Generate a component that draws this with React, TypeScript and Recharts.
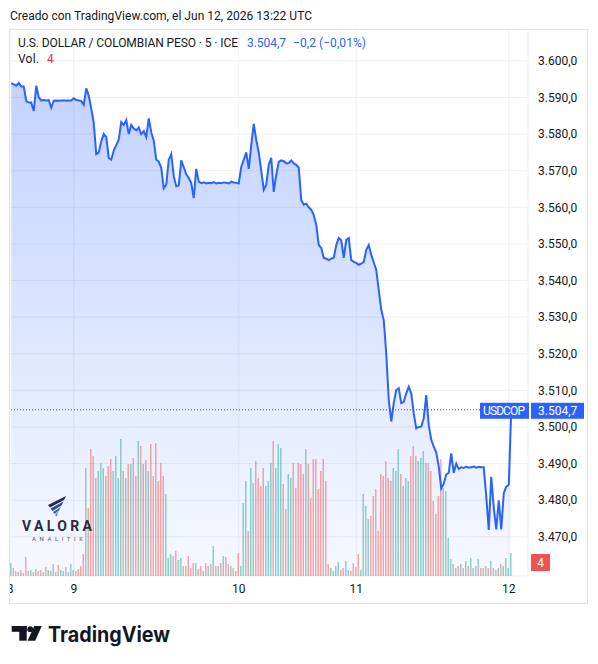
import React from 'react';
import {
  ComposedChart,
  Area,
  Line,
  Bar,
  Cell,
  XAxis,
  YAxis,
  CartesianGrid,
  ReferenceLine,
} from 'recharts';

// ---- DATA ----
const symbol = 'USDCOP';
const titleText = 'U.S. DOLLAR / COLOMBIAN PESO · 5 · ICE';
const createdText = 'Creado con TradingView.com, el Jun 12, 2026 13:22 UTC';
const changeText = '−0,2 (−0,01%)';
const lastVolumeText = '4';

// 5-minute closes, one per bar
const prices = [
  3593.9, 3593.6, 3593.2, 3594.0, 3593.0, 3593.0, 3589.0, 3588.6, 3588.6, 3586.3,
  3593.2, 3590.0, 3589.2, 3589.3, 3589.2, 3589.3, 3587.2, 3589.1, 3589.2, 3589.1,
  3589.2, 3589.2, 3589.1, 3589.2, 3589.2, 3589.8, 3589.3, 3589.2, 3589.0, 3588.0,
  3592.5, 3590.5, 3587.0, 3583.0, 3574.5, 3575.0, 3578.0, 3580.0, 3579.2, 3573.5,
  3573.0, 3575.5, 3577.0, 3578.5, 3583.3, 3582.5, 3583.8, 3580.0, 3582.5, 3581.5,
  3581.0, 3581.8, 3580.0, 3580.8, 3579.2, 3584.3, 3580.5, 3578.2, 3573.0, 3572.5,
  3570.8, 3565.2, 3566.2, 3573.0, 3574.5, 3568.5, 3565.7, 3566.0, 3572.8, 3571.0,
  3569.0, 3568.0, 3566.6, 3562.5, 3570.5, 3567.0, 3566.6, 3566.8, 3566.5, 3566.7,
  3566.6, 3566.9, 3566.5, 3566.7, 3566.6, 3566.8, 3566.7, 3566.5, 3567.0, 3566.8,
  3566.7, 3566.5, 3571.0, 3573.0, 3575.0, 3570.5, 3577.0, 3582.8, 3578.4, 3575.0,
  3570.0, 3564.8, 3566.1, 3571.6, 3573.5, 3564.2, 3568.9, 3572.4, 3572.8, 3572.6,
  3572.0, 3572.1, 3572.8, 3572.0, 3571.6, 3570.8, 3562.0, 3560.7, 3561.0, 3560.0,
  3559.3, 3557.9, 3555.2, 3549.7, 3548.9, 3546.2, 3546.0, 3545.6, 3546.0, 3546.2,
  3549.7, 3551.6, 3551.0, 3546.2, 3551.1, 3551.6, 3545.6, 3545.1, 3544.8, 3544.3,
  3544.6, 3545.1, 3548.4, 3549.7, 3547.0, 3545.0, 3542.9, 3537.4, 3532.0, 3529.2,
  3520.0, 3507.4, 3501.5, 3506.5, 3510.1, 3510.6, 3506.5, 3506.8, 3509.2, 3511.0,
  3509.2, 3503.7, 3499.6, 3500.0, 3500.1, 3502.4, 3508.7, 3500.5, 3496.5, 3494.6,
  3493.0, 3489.2, 3483.2, 3484.5, 3487.0, 3487.5, 3492.8, 3487.5, 3490.0, 3488.5,
  3489.0, 3488.8, 3489.2, 3488.9, 3489.0, 3489.2, 3488.9, 3489.1, 3489.0, 3489.0,
  3481.0, 3471.9, 3486.4, 3478.0, 3472.0, 3480.0, 3472.0, 3481.9, 3483.7, 3484.2,
  3504.7,
];

// volume per bar (relative units)
const volumes = [
  13, 8, 5, 4, 6, 3, 19, 5, 6, 4,
  7, 5, 6, 4, 9, 6, 5, 12, 4, 11,
  6, 5, 9, 4, 12, 6, 5, 7, 10, 22,
  108, 68, 127, 120, 98, 105, 113, 108, 100, 110,
  117, 105, 120, 98, 137, 105, 98, 112, 112, 118,
  100, 135, 130, 112, 116, 105, 132, 100, 133, 95,
  113, 100, 82, 18, 22, 20, 25, 16, 18, 10,
  10, 20, 8, 13, 13, 7, 10, 5, 13, 10,
  12, 30, 10, 10, 13, 20, 19, 12, 10, 8,
  5, 23, 10, 73, 95, 45, 108, 93, 115, 98,
  90, 108, 90, 95, 113, 135, 108, 132, 128, 92,
  67, 102, 98, 113, 88, 113, 112, 102, 127, 112,
  78, 117, 117, 87, 105, 117, 95, 12, 8, 5,
  10, 14, 6, 8, 15, 6, 5, 13, 9, 22,
  6, 82, 70, 57, 60, 80, 87, 45, 102, 100,
  115, 98, 95, 108, 105, 127, 102, 90, 98, 95,
  120, 130, 120, 115, 118, 125, 113, 113, 105, 75,
  62, 80, 117, 88, 85, 38, 17, 12, 8, 10,
  12, 8, 15, 10, 18, 8, 10, 17, 8, 8,
  10, 8, 15, 8, 6, 8, 12, 10, 18, 8,
  23,
];

const dayLabels = ['8', '9', '10', '11', '12'];
const dayStartBars = [-0.5, 25, 91, 138, 199];
const priceTicks = [
  3470, 3480, 3490, 3500, 3510, 3520, 3530, 3540, 3550, 3560, 3570, 3580, 3590, 3600,
];

// ---- helpers ----
const UP = 'rgba(38,166,154,0.5)';
const DOWN = 'rgba(239,83,80,0.5)';
const LINE = '#2962ff';
const TEXT = '#131722';
const FONT = 'Roboto, "Noto Sans", sans-serif';

const lastPrice = prices[prices.length - 1];

const data = prices.map((p, i) => ({
  bar: i,
  price: p,
  volume: volumes[i],
  up: i === 0 || p >= prices[i - 1],
}));

function fmtPrice(v: number): string {
  const fixed = v.toFixed(1);
  const [int, dec] = fixed.split('.');
  const withDots = int.replace(/\B(?=(\d{3})+(?!\d))/g, '.');
  return withDots + ',' + dec;
}

const PriceTag = (props: any) => {
  const vb = props.viewBox || {};
  const y = vb.y;
  const right = vb.x + vb.width;
  return (
    <g>
      <rect x={right - 48} y={y - 7} width={49} height={16} fill={LINE} />
      <text x={right - 45} y={y + 5} fill="#fff" fontSize={12} textLength={42} fontFamily={FONT}>
        {symbol}
      </text>
      <rect x={right + 3} y={y - 7} width={53} height={16} fill={LINE} />
      <text x={right + 10} y={y + 5} fill="#fff" fontSize={12} fontFamily={FONT}>
        {fmtPrice(lastPrice)}
      </text>
    </g>
  );
};

const VolTag = (props: any) => {
  const vb = props.viewBox || {};
  const y = vb.y;
  const right = vb.x + vb.width;
  return (
    <g>
      <rect x={right + 3} y={y - 22} width={19} height={17} fill="#ef5350" />
      <text x={right + 12.5} y={y - 9} fill="#fff" fontSize={12} textAnchor="middle" fontFamily={FONT}>
        {lastVolumeText}
      </text>
    </g>
  );
};

export default function App() {
  return (
    <div
      style={{
        position: 'absolute',
        left: 0,
        top: 0,
        width: 598,
        height: 664,
        background: '#fff',
        fontFamily: FONT,
        overflow: 'hidden',
      }}
    >
      <div style={{ position: 'absolute', left: 9, top: 0, width: 589, height: 664, overflow: 'hidden' }}>
        <div style={{ position: 'absolute', left: -9, top: 0 }}>
          <ComposedChart
            width={598}
            height={664}
            data={data}
            margin={{ top: 29, right: 0, bottom: 68, left: 10 }}
          >
            <defs>
              <linearGradient id="areaFill" x1="0" y1="0" x2="0" y2="1">
                <stop offset="0%" stopColor={LINE} stopOpacity={0.28} />
                <stop offset="100%" stopColor={LINE} stopOpacity={0.04} />
              </linearGradient>
            </defs>
            <CartesianGrid yAxisId="price" stroke="#eef0f4" strokeWidth={1} />
            <XAxis
              dataKey="bar"
              type="number"
              domain={[-0.5, 206.7]}
              ticks={dayStartBars}
              interval={0}
              tickFormatter={(v: number) => dayLabels[dayStartBars.indexOf(v)] ?? ''}
              axisLine={false}
              tickLine={false}
              tickSize={0}
              tickMargin={8}
              height={20}
              tick={{ fill: TEXT, fontSize: 12 }}
            />
            <YAxis
              yAxisId="price"
              orientation="right"
              type="number"
              domain={[3459.3, 3608.7]}
              ticks={priceTicks}
              interval={0}
              width={70}
              axisLine={false}
              tickLine={false}
              tickSize={0}
              tickMargin={10}
              tickFormatter={fmtPrice}
              tick={{ fill: TEXT, fontSize: 12, textAnchor: 'start' }}
            />
            <YAxis yAxisId="vol" hide domain={[0, 547]} />
            <Area
              yAxisId="price"
              dataKey="price"
              type="linear"
              stroke="none"
              fill="url(#areaFill)"
              fillOpacity={1}
              isAnimationActive={false}
            />
            <Bar yAxisId="vol" dataKey="volume" barSize={1.5} isAnimationActive={false}>
              {data.map((d) => (
                <Cell key={d.bar} fill={d.up ? UP : DOWN} />
              ))}
            </Bar>
            <Line
              yAxisId="price"
              dataKey="price"
              type="linear"
              stroke={LINE}
              strokeWidth={2}
              dot={false}
              isAnimationActive={false}
            />
            <ReferenceLine
              yAxisId="price"
              y={lastPrice}
              stroke="#50535e"
              strokeDasharray="1 2"
              label={PriceTag}
            />
            <ReferenceLine yAxisId="vol" y={0} stroke="none" label={VolTag} />
          </ComposedChart>
        </div>
      </div>

      <svg
        width={598}
        height={664}
        style={{ position: 'absolute', left: 0, top: 0, pointerEvents: 'none' }}
      >
        {/* frame */}
        <rect x={9.5} y={29.5} width={578} height={574} fill="none" stroke="#e0e3eb" />
        {/* header */}
        <text x={10} y={20} fontSize={12} fill={TEXT} textLength={302} fontFamily={FONT}>
          {createdText}
        </text>
        <text x={18} y={47} fontSize={12} fill={TEXT} textLength={220} fontFamily={FONT}>
          {titleText}
        </text>
        <text x={247} y={47} fontSize={12} fill={LINE} textLength={39} fontFamily={FONT}>
          {fmtPrice(lastPrice)}
        </text>
        <text x={293} y={47} fontSize={12} fill={LINE} textLength={73} fontFamily={FONT}>
          {changeText}
        </text>
        <text x={18} y={63} fontSize={12} fill={TEXT} textLength={21} fontFamily={FONT}>
          Vol.
        </text>
        <text x={47} y={63} fontSize={12} fill="#f23645" fontFamily={FONT}>
          {lastVolumeText}
        </text>

        {/* Valora Analitik watermark */}
        <g>
          <polygon points="48,505 66,496 64,500 50,507.5" fill="#1f2d55" />
          <polygon points="50.5,508.5 63.5,501.5 61.5,505.5 52.5,511" fill="#2c4c8c" />
          <polygon points="53,512 61,507 59,510.5 54.5,514" fill="#3a66b0" />
          <polygon points="55,515 58.5,511.5 56.5,516.5" fill="#4a7cc6" />
          <text
            x={22}
            y={531}
            fontSize={14}
            fontWeight={700}
            fill="#2b2c36"
            textLength={70}
            lengthAdjust="spacing"
            fontFamily={FONT}
          >
            VALORA
          </text>
          <text
            x={32}
            y={541}
            fontSize={6}
            fill="#55565e"
            textLength={51}
            lengthAdjust="spacing"
            fontFamily={FONT}
          >
            ANALITIK
          </text>
        </g>

        {/* TradingView logo */}
        <g fill={TEXT}>
          <rect x={11.7} y={626} width={15} height={5.8} />
          <rect x={19.3} y={626} width={7.4} height={14.7} />
          <circle cx={30.2} cy={629.2} r={2.9} />
          <polygon points="34.2,626 41.8,626 35.2,640.7 27.6,640.7" />
          <text
            x={48}
            y={642}
            fontSize={21}
            fontWeight={700}
            fontFamily="Inter, Roboto, sans-serif"
            textLength={122}
            lengthAdjust="spacingAndGlyphs"
          >
            TradingView
          </text>
        </g>
      </svg>
    </div>
  );
}
